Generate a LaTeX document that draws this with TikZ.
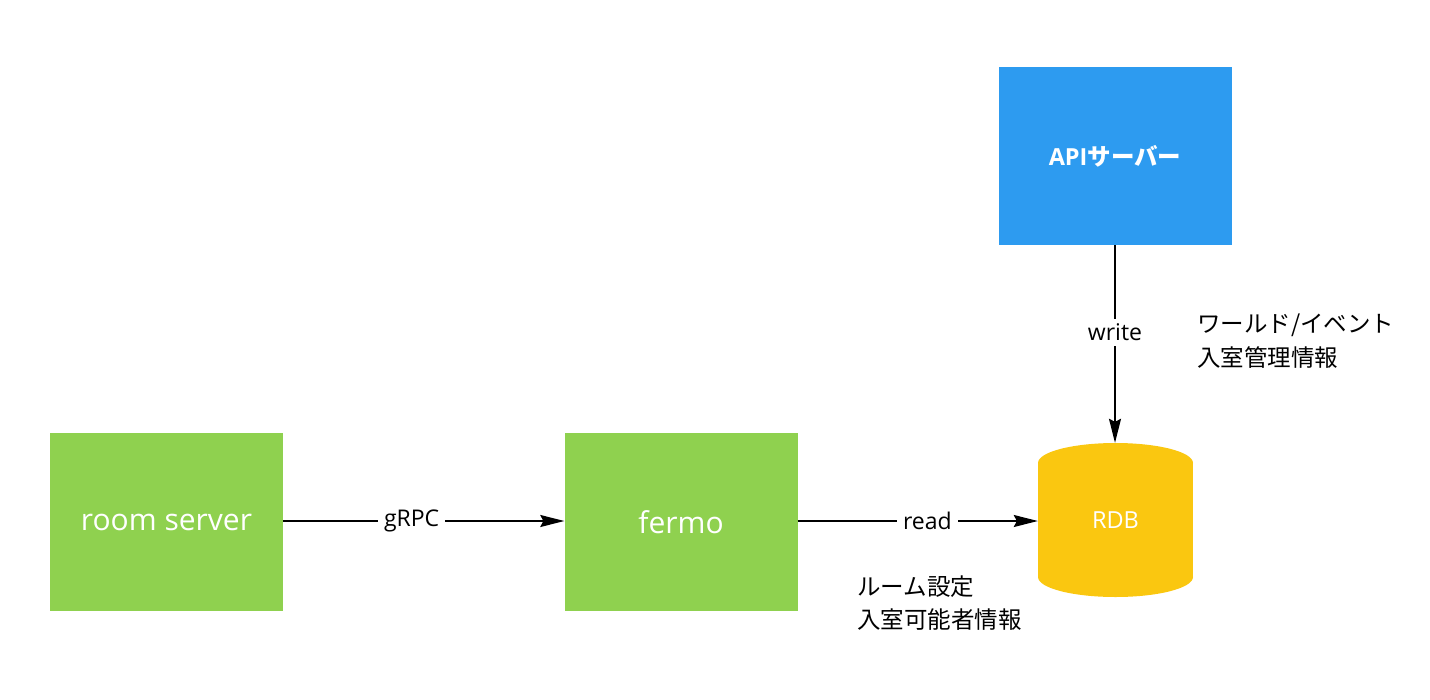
\documentclass[tikz,border=0pt]{standalone}
\usepackage{fontspec}
\setmainfont{Open Sans}
\newfontfamily\jp{Noto Sans CJK JP}
\usetikzlibrary{arrows.meta}
\definecolor{mgreen}{HTML}{8FD14F}
\definecolor{mblue}{HTML}{2D9BF0}
\definecolor{myellow}{HTML}{FAC710}
\tikzset{
  box/.style={draw=none, minimum width=233pt, minimum height=178pt, inner sep=0pt, text=white},
  conn/.style={line width=1.5pt, -{Stealth[length=24pt,width=12pt,inset=3pt]}},
  lbl/.style={fill=white, inner xsep=6pt, inner ysep=2pt, font=\fontsize{23}{27}\selectfont},
  note/.style={anchor=west, inner sep=0pt, font=\jp\fontsize{23.5}{27}\selectfont},
}
\begin{document}
\begin{tikzpicture}[x=1pt,y=-1pt]
\useasboundingbox (0,0) rectangle (1430,699);
\node[box, fill=mgreen, font=\fontsize{30}{36}\selectfont] (room) at (166.5,522) {room server};
\node[box, fill=mgreen, font=\fontsize{30}{36}\selectfont] (fermo) at (681,522) {fermo};
\node[box, fill=mblue, font=\bfseries\fontsize{23.5}{28}\selectfont] (api) at (1115,156) {API{\jp\bfseries サーバー}};
% RDB cylinder
\fill[myellow] (1115.5,463) ellipse [x radius=77.5, y radius=20];
\fill[myellow] (1115.5,577) ellipse [x radius=77.5, y radius=20];
\fill[myellow] (1038,463) rectangle (1193,577);
\node[draw=none, minimum width=155pt, minimum height=154pt, inner sep=0pt, text=white, font=\fontsize{23.5}{28}\selectfont] (rdb) at (1115.5,520) {RDB};
\draw[conn] (room.east |- 0,521) -- node[lbl, pos=0.457] (lg) {gRPC} (fermo.west |- 0,521);
\draw[conn] (fermo.east |- 0,521) -- node[lbl, pos=0.54] (lr) {read} (rdb.west |- 0,521);
\draw[conn] (api.south -| 1115,0) -- node[lbl, pos=0.44, inner xsep=2pt, inner ysep=5pt] (lw) {write} (rdb.north -| 1115,0);
\node[note] (n1) at (1197,325) {ワールド/イベント};
\node[note] (n2) at (1197,358) {入室管理情報};
\node[note] (n3) at (857,587) {ルーム設定};
\node[note] (n4) at (857,620) {入室可能者情報};
\end{tikzpicture}
\end{document}
